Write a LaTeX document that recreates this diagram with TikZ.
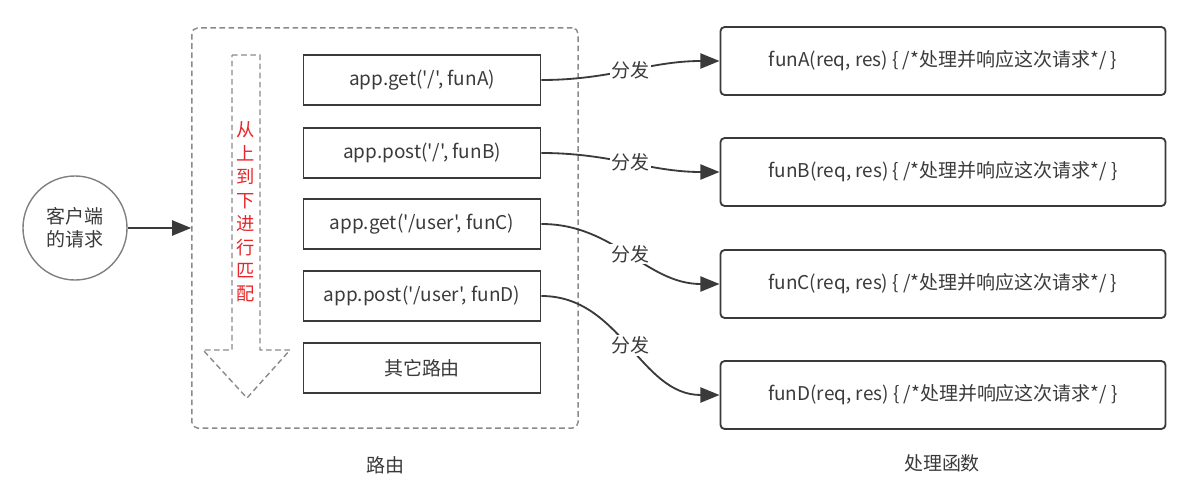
\documentclass[tikz,border=0pt]{standalone}
\usepackage{fontspec}
\setmainfont{Noto Sans CJK SC}[Ligatures=TeXOff]
\usepackage{xcolor}
\usetikzlibrary{arrows.meta,positioning}
\definecolor{ink}{HTML}{3A3A3A}
\definecolor{dashgray}{HTML}{8A8A8A}
\definecolor{matchred}{HTML}{E8262A}

\begin{document}
\begin{tikzpicture}[x=0.025cm, y=-0.025cm,
  txt/.style={text=ink, font=\fontsize{13.5}{16.5}\selectfont},
  route/.style={txt, draw=ink, line width=1.3pt, minimum width=5.925cm, minimum height=1.25cm},
  handler/.style={txt, draw=ink, line width=1.3pt, rounded corners=3pt,
                  minimum width=11.125cm, minimum height=1.7cm},
  frame/.style={draw=dashgray, line width=1pt, dash pattern=on 4pt off 2.5pt,
                rounded corners=4pt, minimum width=9.65cm, minimum height=10cm},
  lbl/.style={txt, fill=white, inner sep=1pt},
  arr/.style={draw=ink, line width=1.3pt, -{Triangle[length=4.8mm, width=3.8mm]}}]
\useasboundingbox (0,0) rectangle (1190,480);

% client and route frame
\node[txt, circle, draw=gray, line width=1pt, minimum size=2.6cm, align=center] (client) at (75,228) {客户端\\的请求};
\node[frame] (routes) at (385,228) {};
\draw[arr] (client) -- (routes.west);

% top-to-bottom matching arrow
\draw[dashgray, line width=1pt, dash pattern=on 4pt off 2.5pt]
  (232,55) -- (260,55) -- (260,350) -- (290,350) -- (247,398) -- (203,350) -- (232,350) -- cycle;
\node[text=matchred, font=\fontsize{13}{16.7}\selectfont, align=center] (order) at (246,212)
  {从\\上\\到\\下\\进\\行\\匹\\配};

% routes
\node[route] (rA) at (422,80) {app.get('/', funA)};
\node[route] (rB) at (422,153) {app.post('/', funB)};
\node[route] (rC) at (422,224) {app.get('/user', funC)};
\node[route] (rD) at (422,296) {app.post('/user', funD)};
\node[route] (rE) at (422,368) {其它路由};

% handlers
\node[handler] (hA) at (943,61) {funA(req, res) \{ /*处理并响应这次请求*/ \}};
\node[handler] (hB) at (943,172) {funB(req, res) \{ /*处理并响应这次请求*/ \}};
\node[handler] (hC) at (943,284) {funC(req, res) \{ /*处理并响应这次请求*/ \}};
\node[handler] (hD) at (943,395) {funD(req, res) \{ /*处理并响应这次请求*/ \}};

\draw[arr] (rA.east) to[out=0, in=180] node[lbl] {分发} (hA.west);
\draw[arr] (rB.east) to[out=0, in=180] node[lbl] {分发} (hB.west);
\draw[arr] (rC.east) to[out=0, in=180] node[lbl] {分发} (hC.west);
\draw[arr] (rD.east) to[out=0, in=180] node[lbl] {分发} (hD.west);

% captions
\node[txt] (capR) at (385,465) {路由};
\node[txt] (capH) at (942,463) {处理函数};
\end{tikzpicture}
\end{document}
